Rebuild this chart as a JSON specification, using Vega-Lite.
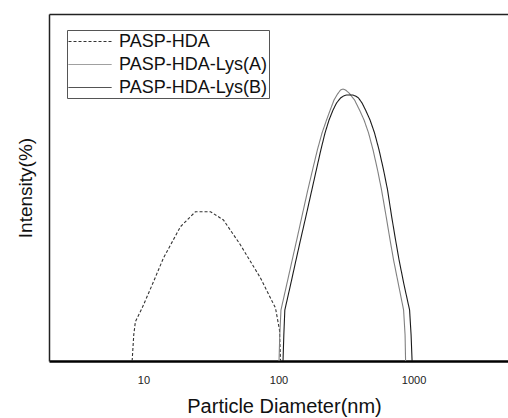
{
  "$schema": "https://vega.github.io/schema/vega-lite/v6.json",
  "width": 459,
  "height": 347,
  "autosize": {"type": "none"},
  "padding": {"left": 49, "top": 14, "right": 0, "bottom": 57},
  "background": "white",
  "config": {
    "view": {"stroke": null},
    "font": "Liberation Sans"
  },
  "data": {
    "values": [
      {"s": "PASP-HDA", "d": 8.25, "i": 0},
      {"s": "PASP-HDA", "d": 8.48, "i": 7.49},
      {"s": "PASP-HDA", "d": 8.72, "i": 11.33},
      {"s": "PASP-HDA", "d": 9.78, "i": 15.27},
      {"s": "PASP-HDA", "d": 11.6, "i": 21.9},
      {"s": "PASP-HDA", "d": 14.07, "i": 29.68},
      {"s": "PASP-HDA", "d": 18.8, "i": 38.7},
      {"s": "PASP-HDA", "d": 24.28, "i": 43.03},
      {"s": "PASP-HDA", "d": 31.36, "i": 43.03},
      {"s": "PASP-HDA", "d": 39.14, "i": 40.63},
      {"s": "PASP-HDA", "d": 52.31, "i": 33.43},
      {"s": "PASP-HDA", "d": 73.56, "i": 23.92},
      {"s": "PASP-HDA", "d": 95.0, "i": 15.27},
      {"s": "PASP-HDA", "d": 101.7, "i": 8.93},
      {"s": "PASP-HDA", "d": 103.5, "i": 0},
      {"s": "PASP-HDA-Lys(A)", "d": 100.9, "i": 0},
      {"s": "PASP-HDA-Lys(A)", "d": 102.2, "i": 7.49},
      {"s": "PASP-HDA-Lys(A)", "d": 104.3, "i": 14.7},
      {"s": "PASP-HDA-Lys(A)", "d": 114.8, "i": 21.9},
      {"s": "PASP-HDA-Lys(A)", "d": 126.3, "i": 29.11},
      {"s": "PASP-HDA-Lys(A)", "d": 136.4, "i": 34.87},
      {"s": "PASP-HDA-Lys(A)", "d": 149.3, "i": 41.79},
      {"s": "PASP-HDA-Lys(A)", "d": 164.8, "i": 49.28},
      {"s": "PASP-HDA-Lys(A)", "d": 178.6, "i": 55.04},
      {"s": "PASP-HDA-Lys(A)", "d": 193.9, "i": 60.81},
      {"s": "PASP-HDA-Lys(A)", "d": 210.0, "i": 65.71},
      {"s": "PASP-HDA-Lys(A)", "d": 226.8, "i": 69.45},
      {"s": "PASP-HDA-Lys(A)", "d": 241.5, "i": 72.33},
      {"s": "PASP-HDA-Lys(A)", "d": 257.7, "i": 75.22},
      {"s": "PASP-HDA-Lys(A)", "d": 273.5, "i": 76.95},
      {"s": "PASP-HDA-Lys(A)", "d": 288.0, "i": 78.1},
      {"s": "PASP-HDA-Lys(A)", "d": 300.5, "i": 78.39},
      {"s": "PASP-HDA-Lys(A)", "d": 313.6, "i": 78.1},
      {"s": "PASP-HDA-Lys(A)", "d": 333.0, "i": 77.23},
      {"s": "PASP-HDA-Lys(A)", "d": 365.6, "i": 75.22},
      {"s": "PASP-HDA-Lys(A)", "d": 398.1, "i": 72.33},
      {"s": "PASP-HDA-Lys(A)", "d": 429.9, "i": 69.45},
      {"s": "PASP-HDA-Lys(A)", "d": 464.2, "i": 65.71},
      {"s": "PASP-HDA-Lys(A)", "d": 501.2, "i": 60.81},
      {"s": "PASP-HDA-Lys(A)", "d": 541.2, "i": 55.04},
      {"s": "PASP-HDA-Lys(A)", "d": 579.4, "i": 49.28},
      {"s": "PASP-HDA-Lys(A)", "d": 625.6, "i": 41.79},
      {"s": "PASP-HDA-Lys(A)", "d": 669.8, "i": 34.87},
      {"s": "PASP-HDA-Lys(A)", "d": 711.0, "i": 29.11},
      {"s": "PASP-HDA-Lys(A)", "d": 774.3, "i": 21.9},
      {"s": "PASP-HDA-Lys(A)", "d": 843.4, "i": 14.7},
      {"s": "PASP-HDA-Lys(A)", "d": 865.0, "i": 7.49},
      {"s": "PASP-HDA-Lys(A)", "d": 872.5, "i": 0},
      {"s": "PASP-HDA-Lys(B)", "d": 108.0, "i": 0},
      {"s": "PASP-HDA-Lys(B)", "d": 109.5, "i": 7.49},
      {"s": "PASP-HDA-Lys(B)", "d": 111.4, "i": 14.7},
      {"s": "PASP-HDA-Lys(B)", "d": 122.7, "i": 21.9},
      {"s": "PASP-HDA-Lys(B)", "d": 134.8, "i": 29.11},
      {"s": "PASP-HDA-Lys(B)", "d": 145.5, "i": 34.87},
      {"s": "PASP-HDA-Lys(B)", "d": 159.8, "i": 41.79},
      {"s": "PASP-HDA-Lys(B)", "d": 176.5, "i": 49.28},
      {"s": "PASP-HDA-Lys(B)", "d": 190.5, "i": 55.04},
      {"s": "PASP-HDA-Lys(B)", "d": 205.8, "i": 60.81},
      {"s": "PASP-HDA-Lys(B)", "d": 221.0, "i": 65.71},
      {"s": "PASP-HDA-Lys(B)", "d": 236.6, "i": 69.45},
      {"s": "PASP-HDA-Lys(B)", "d": 253.3, "i": 72.33},
      {"s": "PASP-HDA-Lys(B)", "d": 268.9, "i": 74.35},
      {"s": "PASP-HDA-Lys(B)", "d": 288.0, "i": 75.79},
      {"s": "PASP-HDA-Lys(B)", "d": 303.0, "i": 76.37},
      {"s": "PASP-HDA-Lys(B)", "d": 318.9, "i": 76.66},
      {"s": "PASP-HDA-Lys(B)", "d": 353.3, "i": 76.66},
      {"s": "PASP-HDA-Lys(B)", "d": 371.9, "i": 76.37},
      {"s": "PASP-HDA-Lys(B)", "d": 391.4, "i": 75.79},
      {"s": "PASP-HDA-Lys(B)", "d": 415.5, "i": 74.35},
      {"s": "PASP-HDA-Lys(B)", "d": 441.0, "i": 72.33},
      {"s": "PASP-HDA-Lys(B)", "d": 476.2, "i": 69.45},
      {"s": "PASP-HDA-Lys(B)", "d": 514.1, "i": 65.71},
      {"s": "PASP-HDA-Lys(B)", "d": 555.2, "i": 60.81},
      {"s": "PASP-HDA-Lys(B)", "d": 599.5, "i": 55.04},
      {"s": "PASP-HDA-Lys(B)", "d": 641.8, "i": 49.28},
      {"s": "PASP-HDA-Lys(B)", "d": 687.1, "i": 41.79},
      {"s": "PASP-HDA-Lys(B)", "d": 735.6, "i": 34.87},
      {"s": "PASP-HDA-Lys(B)", "d": 780.8, "i": 29.11},
      {"s": "PASP-HDA-Lys(B)", "d": 850.5, "i": 21.9},
      {"s": "PASP-HDA-Lys(B)", "d": 934.2, "i": 14.7},
      {"s": "PASP-HDA-Lys(B)", "d": 958.5, "i": 7.49},
      {"s": "PASP-HDA-Lys(B)", "d": 974.8, "i": 0}
    ]
  },
  "layer": [
    {
      "mark": {"type": "line", "interpolate": "linear", "strokeWidth": 1.1},
      "encoding": {
        "x": {
          "field": "d", "type": "quantitative",
          "scale": {"type": "log", "domain": [2, 5000], "nice": false},
          "axis": {
            "values": [10, 100, 1000],
            "format": "d",
            "ticks": false,
            "grid": false,
            "domainColor": "#000",
            "domainWidth": 2.5,
            "labelFontSize": 11,
            "labelColor": "#222",
            "labelBaseline": "alphabetic",
            "labelPadding": 22,
            "title": "Particle Diameter(nm)",
            "titleFontSize": 20,
            "titleFontWeight": "normal",
            "titleColor": "#111",
            "titleX": 235,
            "titleY": 51,
            "titleBaseline": "alphabetic"
          }
        },
        "y": {
          "field": "i", "type": "quantitative",
          "scale": {"domain": [0, 100], "nice": false},
          "axis": {
            "labels": false,
            "ticks": false,
            "grid": false,
            "domainColor": "#222",
            "domainWidth": 1.5,
            "title": "Intensity(%)",
            "titleFontSize": 19,
            "titleFontWeight": "normal",
            "titleColor": "#111",
            "titlePadding": 14
          }
        },
        "color": {
          "field": "s", "type": "nominal",
          "scale": {
            "domain": ["PASP-HDA", "PASP-HDA-Lys(A)", "PASP-HDA-Lys(B)"],
            "range": ["#333333", "#808080", "#1a1a1a"]
          },
          "legend": {
            "title": null,
            "orient": "none",
            "legendX": 18,
            "legendY": 16,
            "strokeColor": "#555",
            "padding": 1,
            "symbolType": "M-1,0H3.3",
            "symbolSize": 400,
            "symbolStrokeWidth": 1,
            "labelFontSize": 18,
            "labelColor": "#111",
            "labelOffset": 30,
            "labelLimit": 300,
            "rowPadding": 3
          }
        },
        "strokeDash": {
          "field": "s", "type": "nominal",
          "scale": {
            "domain": ["PASP-HDA", "PASP-HDA-Lys(A)", "PASP-HDA-Lys(B)"],
            "range": [[3, 2], [1, 0], [1, 0]]
          },
          "legend": {
            "title": null,
            "orient": "none",
            "legendX": 18,
            "legendY": 16,
            "strokeColor": "#555",
            "padding": 1,
            "symbolType": "M-1,0H3.3",
            "symbolSize": 400,
            "symbolStrokeWidth": 1,
            "labelFontSize": 18,
            "labelColor": "#111",
            "labelOffset": 30,
            "labelLimit": 300,
            "rowPadding": 3
          }
        }
      }
    },
    {
      "mark": {"type": "point", "opacity": 0},
      "encoding": {
        "x": {
          "field": "d", "type": "quantitative",
          "scale": {"type": "log", "domain": [2, 5000], "nice": false},
          "axis": {
            "orient": "top",
            "labels": false,
            "ticks": false,
            "grid": false,
            "title": null,
            "domainColor": "#222",
            "domainWidth": 1.5
          }
        },
        "y": {
          "field": "i", "type": "quantitative",
          "scale": {"domain": [0, 100], "nice": false}
        }
      }
    }
  ],
  "resolve": {"axis": {"x": "independent"}}
}
